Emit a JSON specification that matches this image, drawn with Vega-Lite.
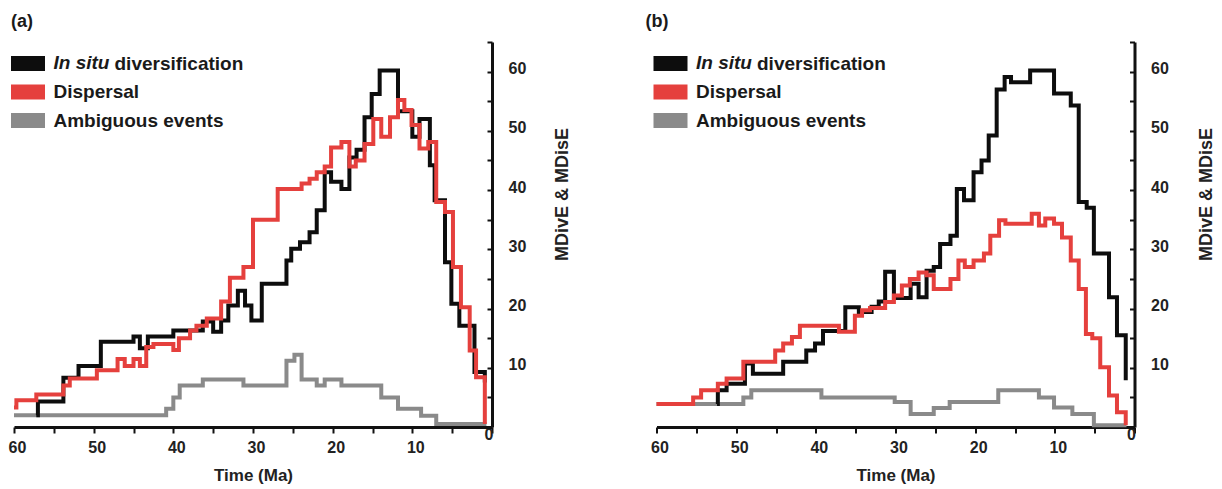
{
  "$schema": "https://vega.github.io/schema/vega-lite/v6.json",
  "padding": {"left": 3, "top": 12, "right": 0, "bottom": 0},
  "config": {
    "font": "Liberation Sans",
    "view": {"stroke": null},
    "axis": {"grid": false}
  },
  "datasets": {
    "events": [
      {"panel": "a", "series": "In situ diversification", "t": 57.2, "v": 2},
      {"panel": "a", "series": "In situ diversification", "t": 57, "v": 4.3},
      {"panel": "a", "series": "In situ diversification", "t": 53.8, "v": 8.3},
      {"panel": "a", "series": "In situ diversification", "t": 51.9, "v": 10.3},
      {"panel": "a", "series": "In situ diversification", "t": 49.1, "v": 14.4},
      {"panel": "a", "series": "In situ diversification", "t": 45, "v": 15.3},
      {"panel": "a", "series": "In situ diversification", "t": 44.2, "v": 13.3},
      {"panel": "a", "series": "In situ diversification", "t": 43.2, "v": 15.3},
      {"panel": "a", "series": "In situ diversification", "t": 40, "v": 16.3},
      {"panel": "a", "series": "In situ diversification", "t": 36.3, "v": 17.8},
      {"panel": "a", "series": "In situ diversification", "t": 35, "v": 16.1},
      {"panel": "a", "series": "In situ diversification", "t": 34, "v": 18},
      {"panel": "a", "series": "In situ diversification", "t": 33.1, "v": 20.5},
      {"panel": "a", "series": "In situ diversification", "t": 31.9, "v": 23},
      {"panel": "a", "series": "In situ diversification", "t": 31, "v": 20.5},
      {"panel": "a", "series": "In situ diversification", "t": 30.2, "v": 18},
      {"panel": "a", "series": "In situ diversification", "t": 28.9, "v": 24.2},
      {"panel": "a", "series": "In situ diversification", "t": 25.8, "v": 28.1},
      {"panel": "a", "series": "In situ diversification", "t": 25.2, "v": 30.1},
      {"panel": "a", "series": "In situ diversification", "t": 24.1, "v": 31.2},
      {"panel": "a", "series": "In situ diversification", "t": 22.9, "v": 32.9},
      {"panel": "a", "series": "In situ diversification", "t": 22, "v": 36.6},
      {"panel": "a", "series": "In situ diversification", "t": 21, "v": 43},
      {"panel": "a", "series": "In situ diversification", "t": 20.2, "v": 41.4},
      {"panel": "a", "series": "In situ diversification", "t": 18.9, "v": 40.2},
      {"panel": "a", "series": "In situ diversification", "t": 17.9, "v": 45.5},
      {"panel": "a", "series": "In situ diversification", "t": 17, "v": 46.8},
      {"panel": "a", "series": "In situ diversification", "t": 16, "v": 52.3},
      {"panel": "a", "series": "In situ diversification", "t": 15.1, "v": 56.2},
      {"panel": "a", "series": "In situ diversification", "t": 14.1, "v": 60.2},
      {"panel": "a", "series": "In situ diversification", "t": 11.8, "v": 53.3},
      {"panel": "a", "series": "In situ diversification", "t": 10, "v": 49},
      {"panel": "a", "series": "In situ diversification", "t": 9.1, "v": 52},
      {"panel": "a", "series": "In situ diversification", "t": 7.8, "v": 44.2},
      {"panel": "a", "series": "In situ diversification", "t": 7.2, "v": 38.3},
      {"panel": "a", "series": "In situ diversification", "t": 5.9, "v": 27.8},
      {"panel": "a", "series": "In situ diversification", "t": 5.1, "v": 20.8},
      {"panel": "a", "series": "In situ diversification", "t": 4.1, "v": 17.1},
      {"panel": "a", "series": "In situ diversification", "t": 2.2, "v": 9.3},
      {"panel": "a", "series": "In situ diversification", "t": 0.9, "v": 7.5},

      {"panel": "a", "series": "Dispersal", "t": 60, "v": 3.3},
      {"panel": "a", "series": "Dispersal", "t": 59.7, "v": 4.5},
      {"panel": "a", "series": "Dispersal", "t": 57.2, "v": 5.5},
      {"panel": "a", "series": "Dispersal", "t": 53.8, "v": 7},
      {"panel": "a", "series": "Dispersal", "t": 53, "v": 8.2},
      {"panel": "a", "series": "Dispersal", "t": 49.6, "v": 9.6},
      {"panel": "a", "series": "Dispersal", "t": 47, "v": 11.5},
      {"panel": "a", "series": "Dispersal", "t": 46.1, "v": 10.3},
      {"panel": "a", "series": "Dispersal", "t": 45, "v": 11.5},
      {"panel": "a", "series": "Dispersal", "t": 44.2, "v": 10.3},
      {"panel": "a", "series": "Dispersal", "t": 43.4, "v": 13.5},
      {"panel": "a", "series": "Dispersal", "t": 42.5, "v": 14},
      {"panel": "a", "series": "Dispersal", "t": 40, "v": 13},
      {"panel": "a", "series": "Dispersal", "t": 39.3, "v": 15},
      {"panel": "a", "series": "Dispersal", "t": 37.9, "v": 16.3},
      {"panel": "a", "series": "Dispersal", "t": 37.1, "v": 17.1},
      {"panel": "a", "series": "Dispersal", "t": 35.8, "v": 18.3},
      {"panel": "a", "series": "Dispersal", "t": 34, "v": 21.2},
      {"panel": "a", "series": "Dispersal", "t": 32.9, "v": 25.2},
      {"panel": "a", "series": "Dispersal", "t": 31.2, "v": 27},
      {"panel": "a", "series": "Dispersal", "t": 30, "v": 35},
      {"panel": "a", "series": "Dispersal", "t": 26.9, "v": 40.2},
      {"panel": "a", "series": "Dispersal", "t": 23.9, "v": 41.1},
      {"panel": "a", "series": "Dispersal", "t": 22.9, "v": 41.9},
      {"panel": "a", "series": "Dispersal", "t": 22, "v": 43},
      {"panel": "a", "series": "Dispersal", "t": 21, "v": 44},
      {"panel": "a", "series": "Dispersal", "t": 20.2, "v": 47.2},
      {"panel": "a", "series": "Dispersal", "t": 18.9, "v": 48.1},
      {"panel": "a", "series": "Dispersal", "t": 17.9, "v": 44},
      {"panel": "a", "series": "Dispersal", "t": 17.1, "v": 45},
      {"panel": "a", "series": "Dispersal", "t": 16, "v": 47.8},
      {"panel": "a", "series": "Dispersal", "t": 14.9, "v": 52},
      {"panel": "a", "series": "Dispersal", "t": 13.9, "v": 49},
      {"panel": "a", "series": "Dispersal", "t": 12.8, "v": 52.3},
      {"panel": "a", "series": "Dispersal", "t": 11.8, "v": 55.2},
      {"panel": "a", "series": "Dispersal", "t": 11, "v": 53.5},
      {"panel": "a", "series": "Dispersal", "t": 10.1, "v": 51},
      {"panel": "a", "series": "Dispersal", "t": 9.1, "v": 47},
      {"panel": "a", "series": "Dispersal", "t": 8, "v": 48.1},
      {"panel": "a", "series": "Dispersal", "t": 7, "v": 38},
      {"panel": "a", "series": "Dispersal", "t": 5.9, "v": 36.3},
      {"panel": "a", "series": "Dispersal", "t": 4.9, "v": 27},
      {"panel": "a", "series": "Dispersal", "t": 3.9, "v": 20.2},
      {"panel": "a", "series": "Dispersal", "t": 2.8, "v": 12.9},
      {"panel": "a", "series": "Dispersal", "t": 2, "v": 8.4},
      {"panel": "a", "series": "Dispersal", "t": 0.9, "v": 0.5},

      {"panel": "a", "series": "Ambiguous events", "t": 60, "v": 2},
      {"panel": "a", "series": "Ambiguous events", "t": 40.9, "v": 3.1},
      {"panel": "a", "series": "Ambiguous events", "t": 40, "v": 5},
      {"panel": "a", "series": "Ambiguous events", "t": 39.2, "v": 7},
      {"panel": "a", "series": "Ambiguous events", "t": 36.3, "v": 8},
      {"panel": "a", "series": "Ambiguous events", "t": 31.2, "v": 7},
      {"panel": "a", "series": "Ambiguous events", "t": 25.8, "v": 11.2},
      {"panel": "a", "series": "Ambiguous events", "t": 24.8, "v": 12.2},
      {"panel": "a", "series": "Ambiguous events", "t": 23.9, "v": 8},
      {"panel": "a", "series": "Ambiguous events", "t": 22, "v": 7},
      {"panel": "a", "series": "Ambiguous events", "t": 21, "v": 8},
      {"panel": "a", "series": "Ambiguous events", "t": 18.9, "v": 7},
      {"panel": "a", "series": "Ambiguous events", "t": 13.9, "v": 5},
      {"panel": "a", "series": "Ambiguous events", "t": 11.8, "v": 3.1},
      {"panel": "a", "series": "Ambiguous events", "t": 8.9, "v": 1.9},
      {"panel": "a", "series": "Ambiguous events", "t": 7, "v": 0.5},
      {"panel": "a", "series": "Ambiguous events", "t": 0.7, "v": 0.5},

      {"panel": "b", "series": "In situ diversification", "t": 52.4, "v": 3.9},
      {"panel": "b", "series": "In situ diversification", "t": 52.3, "v": 6.2},
      {"panel": "b", "series": "In situ diversification", "t": 51.2, "v": 7.3},
      {"panel": "b", "series": "In situ diversification", "t": 48.9, "v": 10.7},
      {"panel": "b", "series": "In situ diversification", "t": 47.9, "v": 9},
      {"panel": "b", "series": "In situ diversification", "t": 44.1, "v": 11},
      {"panel": "b", "series": "In situ diversification", "t": 41.2, "v": 12.9},
      {"panel": "b", "series": "In situ diversification", "t": 40.1, "v": 14.1},
      {"panel": "b", "series": "In situ diversification", "t": 39.1, "v": 16.2},
      {"panel": "b", "series": "In situ diversification", "t": 36.3, "v": 20.2},
      {"panel": "b", "series": "In situ diversification", "t": 34.6, "v": 19.4},
      {"panel": "b", "series": "In situ diversification", "t": 33, "v": 20.3},
      {"panel": "b", "series": "In situ diversification", "t": 32.1, "v": 21.2},
      {"panel": "b", "series": "In situ diversification", "t": 31.3, "v": 26.2},
      {"panel": "b", "series": "In situ diversification", "t": 30.2, "v": 21.8},
      {"panel": "b", "series": "In situ diversification", "t": 28.1, "v": 24.2},
      {"panel": "b", "series": "In situ diversification", "t": 27.1, "v": 21.9},
      {"panel": "b", "series": "In situ diversification", "t": 26.1, "v": 26.4},
      {"panel": "b", "series": "In situ diversification", "t": 25.2, "v": 27},
      {"panel": "b", "series": "In situ diversification", "t": 24.4, "v": 30.9},
      {"panel": "b", "series": "In situ diversification", "t": 23.1, "v": 32.3},
      {"panel": "b", "series": "In situ diversification", "t": 22.3, "v": 40.2},
      {"panel": "b", "series": "In situ diversification", "t": 21.4, "v": 38.3},
      {"panel": "b", "series": "In situ diversification", "t": 20.2, "v": 43},
      {"panel": "b", "series": "In situ diversification", "t": 19.2, "v": 45},
      {"panel": "b", "series": "In situ diversification", "t": 18.3, "v": 49.2},
      {"panel": "b", "series": "In situ diversification", "t": 17.3, "v": 57},
      {"panel": "b", "series": "In situ diversification", "t": 16.3, "v": 59.1},
      {"panel": "b", "series": "In situ diversification", "t": 15.5, "v": 58.2},
      {"panel": "b", "series": "In situ diversification", "t": 13.1, "v": 60.2},
      {"panel": "b", "series": "In situ diversification", "t": 10.1, "v": 56.3},
      {"panel": "b", "series": "In situ diversification", "t": 8, "v": 54.3},
      {"panel": "b", "series": "In situ diversification", "t": 7, "v": 38},
      {"panel": "b", "series": "In situ diversification", "t": 6, "v": 37},
      {"panel": "b", "series": "In situ diversification", "t": 5.1, "v": 29.3},
      {"panel": "b", "series": "In situ diversification", "t": 3.2, "v": 21.9},
      {"panel": "b", "series": "In situ diversification", "t": 2.2, "v": 15.5},
      {"panel": "b", "series": "In situ diversification", "t": 1.1, "v": 7.9},

      {"panel": "b", "series": "Dispersal", "t": 60, "v": 3.9},
      {"panel": "b", "series": "Dispersal", "t": 55.4, "v": 5},
      {"panel": "b", "series": "Dispersal", "t": 54.4, "v": 6.2},
      {"panel": "b", "series": "Dispersal", "t": 52.3, "v": 7.3},
      {"panel": "b", "series": "Dispersal", "t": 51.2, "v": 8.2},
      {"panel": "b", "series": "Dispersal", "t": 49.1, "v": 11},
      {"panel": "b", "series": "Dispersal", "t": 45.1, "v": 12.9},
      {"panel": "b", "series": "Dispersal", "t": 44.1, "v": 14.1},
      {"panel": "b", "series": "Dispersal", "t": 43, "v": 15.2},
      {"panel": "b", "series": "Dispersal", "t": 42, "v": 17.1},
      {"panel": "b", "series": "Dispersal", "t": 37.1, "v": 16.1},
      {"panel": "b", "series": "Dispersal", "t": 35.1, "v": 18.8},
      {"panel": "b", "series": "Dispersal", "t": 34.2, "v": 19.7},
      {"panel": "b", "series": "Dispersal", "t": 33.2, "v": 20.1},
      {"panel": "b", "series": "Dispersal", "t": 31.3, "v": 21.1},
      {"panel": "b", "series": "Dispersal", "t": 30.2, "v": 22.2},
      {"panel": "b", "series": "Dispersal", "t": 29.2, "v": 23.9},
      {"panel": "b", "series": "Dispersal", "t": 28.2, "v": 25},
      {"panel": "b", "series": "Dispersal", "t": 27.1, "v": 26.1},
      {"panel": "b", "series": "Dispersal", "t": 26.1, "v": 25.6},
      {"panel": "b", "series": "Dispersal", "t": 25.2, "v": 23.3},
      {"panel": "b", "series": "Dispersal", "t": 23.1, "v": 25},
      {"panel": "b", "series": "Dispersal", "t": 22.1, "v": 28.1},
      {"panel": "b", "series": "Dispersal", "t": 21.3, "v": 27},
      {"panel": "b", "series": "Dispersal", "t": 20.2, "v": 28.1},
      {"panel": "b", "series": "Dispersal", "t": 18.9, "v": 29.3},
      {"panel": "b", "series": "Dispersal", "t": 18.1, "v": 32.3},
      {"panel": "b", "series": "Dispersal", "t": 17, "v": 34.9},
      {"panel": "b", "series": "Dispersal", "t": 16.2, "v": 34.3},
      {"panel": "b", "series": "Dispersal", "t": 12.9, "v": 36},
      {"panel": "b", "series": "Dispersal", "t": 12, "v": 34},
      {"panel": "b", "series": "Dispersal", "t": 11.2, "v": 35.2},
      {"panel": "b", "series": "Dispersal", "t": 10.1, "v": 34.3},
      {"panel": "b", "series": "Dispersal", "t": 9.1, "v": 32},
      {"panel": "b", "series": "Dispersal", "t": 8, "v": 28.1},
      {"panel": "b", "series": "Dispersal", "t": 7, "v": 23.3},
      {"panel": "b", "series": "Dispersal", "t": 6.1, "v": 15.7},
      {"panel": "b", "series": "Dispersal", "t": 5.3, "v": 15},
      {"panel": "b", "series": "Dispersal", "t": 4.3, "v": 10.1},
      {"panel": "b", "series": "Dispersal", "t": 3.2, "v": 5.3},
      {"panel": "b", "series": "Dispersal", "t": 2.2, "v": 2.5},
      {"panel": "b", "series": "Dispersal", "t": 1.1, "v": 0.3},

      {"panel": "b", "series": "Ambiguous events", "t": 60, "v": 3.9},
      {"panel": "b", "series": "Ambiguous events", "t": 49.1, "v": 5},
      {"panel": "b", "series": "Ambiguous events", "t": 48.1, "v": 6.2},
      {"panel": "b", "series": "Ambiguous events", "t": 39.3, "v": 5},
      {"panel": "b", "series": "Ambiguous events", "t": 30.1, "v": 4.2},
      {"panel": "b", "series": "Ambiguous events", "t": 28.1, "v": 2.2},
      {"panel": "b", "series": "Ambiguous events", "t": 25.2, "v": 3.2},
      {"panel": "b", "series": "Ambiguous events", "t": 23.2, "v": 4.2},
      {"panel": "b", "series": "Ambiguous events", "t": 17.1, "v": 6.2},
      {"panel": "b", "series": "Ambiguous events", "t": 12, "v": 5},
      {"panel": "b", "series": "Ambiguous events", "t": 10.1, "v": 3.3},
      {"panel": "b", "series": "Ambiguous events", "t": 7.8, "v": 2.2},
      {"panel": "b", "series": "Ambiguous events", "t": 5.1, "v": 0.3},
      {"panel": "b", "series": "Ambiguous events", "t": 1, "v": 0.3}
    ]
  },
  "data": {"name": "events"},
  "resolve": {"scale": {"color": "independent"}, "legend": {"color": "independent"}},
  "spacing": 73.5,
  "hconcat": [
    {
      "title": {"text": "(a)", "anchor": "start", "frame": "group", "dx": -3, "offset": 0.5, "fontSize": 18, "fontWeight": "bold", "color": "#1a1a1a"},
      "width": 478,
      "height": 385,
      "transform": [{"filter": "datum.panel === 'a'"}],
      "encoding": {
        "x": {"field": "t", "type": "quantitative",
          "scale": {"domain": [0, 60], "reverse": true, "nice": false, "zero": false},
          "axis": {"orient": "bottom", "values": [0, 5, 10, 15, 20, 25, 30, 35, 40, 45, 50, 55, 60],
            "labelExpr": "datum.value % 10 === 0 ? datum.label : ''",
            "labelFlush": false, "labelOverlap": false, "labelFontSize": 16, "labelFontWeight": "bold", "labelColor": "#222",
            "labelPadding": {"condition": {"test": "datum.value === 0", "value": -6.5}, "value": 6.5},
            "labelOffset": {"condition": {"test": "datum.value === 0", "value": -3.5}, "value": 3},
            "tickSize": 6, "tickWidth": 2, "tickColor": "#111", "domainWidth": 3, "domainColor": "#111",
            "title": "Time (Ma)", "titleFontSize": 17, "titleFontWeight": "bold", "titleColor": "#222", "titlePadding": 12}},
        "y": {"field": "v", "type": "quantitative",
          "scale": {"domain": [0, 65], "nice": false},
          "axis": {"orient": "right", "values": [0, 5, 10, 15, 20, 25, 30, 35, 40, 45, 50, 55, 60, 65],
            "labelExpr": "datum.value % 10 === 0 && datum.value > 0 ? datum.label : ''",
            "labelFontSize": 16, "labelFontWeight": "bold", "labelColor": "#222", "labelPadding": 21, "labelOffset": -3, "labelOverlap": false,
            "tickSize": -5, "tickWidth": 2, "tickColor": "#111", "domainWidth": 3, "domainColor": "#111",
            "title": "MDivE & MDisE", "titleAngle": 270, "titleBaseline": "top", "titleFontSize": 18, "titleFontWeight": "bold", "titleColor": "#222", "titlePadding": 28, "titleY": 152}},
        "order": {"field": "t", "sort": "descending"},
        "color": {"field": "series", "type": "nominal",
          "scale": {"domain": ["In situ diversification", "Dispersal", "Ambiguous events"], "range": ["#0d0d0d", "#e5403d", "#8a8a8a"]},
          "legend": {"orient": "none", "legendX": -10.5, "legendY": 12,
            "title": "In situ", "titleFontSize": 19, "titleFontWeight": "bold", "titleFontStyle": "italic", "titleColor": "#1a1a1a", "titlePadding": -19, "titleBaseline": "top",
            "symbolType": "stroke", "symbolSize": 1156, "symbolStrokeWidth": 15, "clipHeight": 19,
            "labelFontSize": 19, "labelFontWeight": "bold", "labelColor": "#1a1a1a", "labelOffset": 1, "labelLimit": 400, "rowPadding": 8.5,
            "labelExpr": "datum.label === 'In situ diversification' ? 'diversification' : datum.label",
            "encode": {
              "title": {"update": {"dx": {"value": 50}}},
              "symbols": {"update": {"strokeWidth": {"value": 15}}},
              "labels": {"update": {"dx": {"signal": "datum.value === 'In situ diversification' ? 61 : 0"}}}
            }}}
      },
      "layer": [
        {"transform": [{"filter": "datum.series === 'Ambiguous events'"}], "mark": {"type": "line", "interpolate": "step-after", "strokeWidth": 4}},
        {"transform": [{"filter": "datum.series === 'In situ diversification'"}], "mark": {"type": "line", "interpolate": "step-after", "strokeWidth": 4}},
        {"transform": [{"filter": "datum.series === 'Dispersal'"}], "mark": {"type": "line", "interpolate": "step-after", "strokeWidth": 4}}
      ]
    },
    {
      "title": {"text": "(b)", "anchor": "start", "frame": "group", "dx": -11, "offset": 0.5, "fontSize": 18, "fontWeight": "bold", "color": "#1a1a1a"},
      "width": 478,
      "height": 385,
      "transform": [{"filter": "datum.panel === 'b'"}],
      "encoding": {
        "x": {"field": "t", "type": "quantitative",
          "scale": {"domain": [0, 60], "reverse": true, "nice": false, "zero": false},
          "axis": {"orient": "bottom", "values": [0, 5, 10, 15, 20, 25, 30, 35, 40, 45, 50, 55, 60],
            "labelExpr": "datum.value % 10 === 0 ? datum.label : ''",
            "labelFlush": false, "labelOverlap": false, "labelFontSize": 16, "labelFontWeight": "bold", "labelColor": "#222",
            "labelPadding": {"condition": {"test": "datum.value === 0", "value": -6.5}, "value": 6.5},
            "labelOffset": {"condition": {"test": "datum.value === 0", "value": -3.5}, "value": 3},
            "tickSize": 6, "tickWidth": 2, "tickColor": "#111", "domainWidth": 3, "domainColor": "#111",
            "title": "Time (Ma)", "titleFontSize": 17, "titleFontWeight": "bold", "titleColor": "#222", "titlePadding": 12}},
        "y": {"field": "v", "type": "quantitative",
          "scale": {"domain": [0, 65], "nice": false},
          "axis": {"orient": "right", "values": [0, 5, 10, 15, 20, 25, 30, 35, 40, 45, 50, 55, 60, 65],
            "labelExpr": "datum.value % 10 === 0 && datum.value > 0 ? datum.label : ''",
            "labelFontSize": 16, "labelFontWeight": "bold", "labelColor": "#222", "labelPadding": 21, "labelOffset": -3, "labelOverlap": false,
            "tickSize": -5, "tickWidth": 2, "tickColor": "#111", "domainWidth": 3, "domainColor": "#111",
            "title": "MDivE & MDisE", "titleAngle": 270, "titleBaseline": "top", "titleFontSize": 18, "titleFontWeight": "bold", "titleColor": "#222", "titlePadding": 29, "titleY": 152}},
        "order": {"field": "t", "sort": "descending"},
        "color": {"field": "series", "type": "nominal",
          "scale": {"domain": ["In situ diversification", "Dispersal", "Ambiguous events"], "range": ["#0d0d0d", "#e5403d", "#8a8a8a"]},
          "legend": {"orient": "none", "legendX": -10.5, "legendY": 12,
            "title": "In situ", "titleFontSize": 19, "titleFontWeight": "bold", "titleFontStyle": "italic", "titleColor": "#1a1a1a", "titlePadding": -19, "titleBaseline": "top",
            "symbolType": "stroke", "symbolSize": 1156, "symbolStrokeWidth": 15, "clipHeight": 19,
            "labelFontSize": 19, "labelFontWeight": "bold", "labelColor": "#1a1a1a", "labelOffset": 1, "labelLimit": 400, "rowPadding": 8.5,
            "labelExpr": "datum.label === 'In situ diversification' ? 'diversification' : datum.label",
            "encode": {
              "title": {"update": {"dx": {"value": 50}}},
              "symbols": {"update": {"strokeWidth": {"value": 15}}},
              "labels": {"update": {"dx": {"signal": "datum.value === 'In situ diversification' ? 61 : 0"}}}
            }}}
      },
      "layer": [
        {"transform": [{"filter": "datum.series === 'Ambiguous events'"}], "mark": {"type": "line", "interpolate": "step-after", "strokeWidth": 4}},
        {"transform": [{"filter": "datum.series === 'In situ diversification'"}], "mark": {"type": "line", "interpolate": "step-after", "strokeWidth": 4}},
        {"transform": [{"filter": "datum.series === 'Dispersal'"}], "mark": {"type": "line", "interpolate": "step-after", "strokeWidth": 4}}
      ]
    }
  ]
}
